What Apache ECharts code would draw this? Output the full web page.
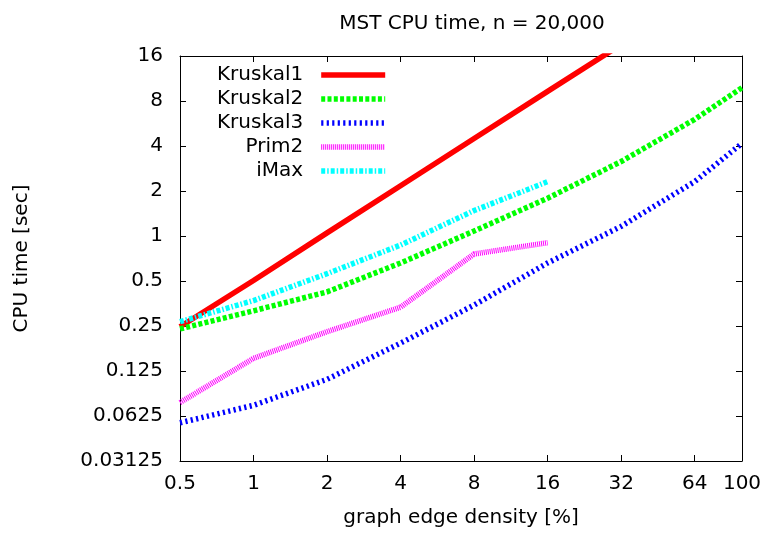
<!DOCTYPE html>
<html>
<head>
<meta charset="utf-8">
<script src="https://cdn.jsdelivr.net/npm/echarts@6/dist/echarts.min.js"></script>
<style>
  html, body { margin: 0; padding: 0; background: #fff; }
  #chart { width: 767px; height: 535px; }
</style>
</head>
<body>
<div id="chart"></div>
<script>
// edge density [%] on x, CPU time [sec] on y (both log2)
const density = [0.5, 1, 2, 4, 8, 16, 32, 64, 100];
const kruskal1 = [0.247, 0.504, 1.05, 2.17, 4.49, 9.28, 19.1];
const kruskal2 = [0.239, 0.316, 0.423, 0.66, 1.08, 1.79, 3.15, 6.03, 9.83];
const kruskal3 = [0.0563, 0.0737, 0.110, 0.192, 0.345, 0.66, 1.16, 2.31, 4.17];
const prim2 = [0.0769, 0.152, 0.229, 0.334, 0.758, 0.902];
const imax = [0.267, 0.37, 0.56, 0.87, 1.48, 2.31];

const FONT = 'DejaVu Sans';

function pairs(ys) {
  return ys.map((y, i) => [density[i], y]);
}

function fmt(v) {
  return String(+Number(v).toPrecision(6));
}

function logAxis(min, max, position, showLabel) {
  return {
    type: 'log',
    logBase: 2,
    min: min,
    max: max,
    interval: 1,
    position: position,
    axisLine: { show: true, lineStyle: { color: '#000', width: 1 } },
    axisTick: { show: true, inside: true, length: 6, lineStyle: { color: '#000' } },
    axisLabel: {
      show: showLabel,
      color: '#000',
      fontFamily: FONT,
      fontSize: 20,
      formatter: fmt
    },
    splitLine: { show: false }
  };
}

const xBottom = logAxis(0.5, 100, 'bottom', true);
xBottom.axisLabel.margin = 13;
xBottom.name = 'graph edge density [%]';
xBottom.nameLocation = 'middle';
xBottom.nameGap = 47;
xBottom.nameTextStyle = { color: '#000', fontFamily: FONT, fontSize: 20 };

const yLeft = logAxis(0.03125, 16, 'left', true);
yLeft.axisLabel.margin = 17;
yLeft.name = 'CPU time [sec]';
yLeft.nameLocation = 'middle';
yLeft.nameGap = 148;
yLeft.nameTextStyle = { color: '#000', fontFamily: FONT, fontSize: 20 };

function series(name, ys, color, dash) {
  return {
    name: name,
    type: 'line',
    data: pairs(ys),
    xAxisIndex: 0,
    yAxisIndex: 0,
    symbol: 'none',
    color: color,
    lineStyle: { color: color, width: 5.5, type: dash, cap: 'butt' },
    clip: true
  };
}

const chart = echarts.init(document.getElementById('chart'));
chart.setOption({
  animation: false,
  title: {
    text: 'MST CPU time, n = 20,000',
    left: 467,
    top: 9,
    textAlign: 'center',
    textStyle: { color: '#000', fontFamily: FONT, fontSize: 20, fontWeight: 'normal' }
  },
  grid: { left: 180, right: 25, top: 56, bottom: 74 },
  legend: {
    orient: 'vertical',
    align: 'right',
    left: 217,
    top: 65,
    padding: 0,
    itemGap: 4,
    itemWidth: 64,
    itemHeight: 14,
    itemStyle: { opacity: 0 },
    lineStyle: { width: 'inherit' },
    textStyle: { color: '#000', fontFamily: FONT, fontSize: 20, padding: [0, 13, 0, 0] },
    data: ['Kruskal1', 'Kruskal2', 'Kruskal3', 'Prim2', 'iMax']
  },
  xAxis: [xBottom, logAxis(0.5, 100, 'top', false)],
  yAxis: [yLeft, logAxis(0.03125, 16, 'right', false)],
  series: [
    series('Kruskal1', kruskal1, '#ff0000', 'solid'),
    series('Kruskal2', kruskal2, '#00ff00', [4, 2.3]),
    series('Kruskal3', kruskal3, '#0000ff', [2.2, 3.3]),
    series('Prim2', prim2, '#ff00ff', [1, 1]),
    series('iMax', imax, '#00ffff', [4, 2, 1.5, 2])
  ]
});
</script>
</body>
</html>
